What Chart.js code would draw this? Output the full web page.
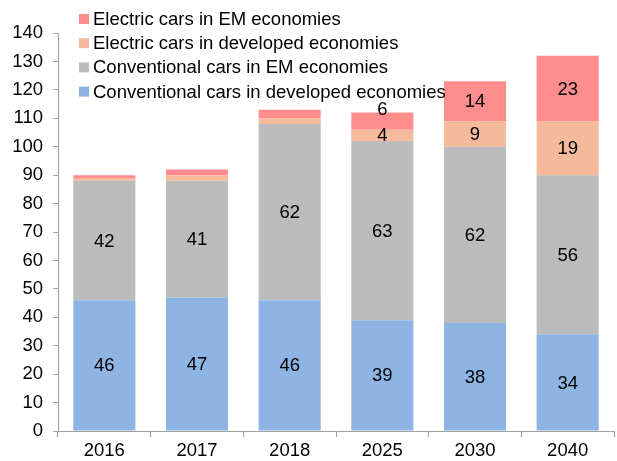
<!DOCTYPE html>
<html>
<head>
<meta charset="utf-8">
<script src="https://cdn.jsdelivr.net/npm/chart.js@4"></script>
<style>
  html, body { margin: 0; padding: 0; background: #fff; }
  #wrap { width: 617px; height: 461px; position: relative; }
</style>
</head>
<body>
<div id="wrap"><canvas id="carsChart"></canvas></div>
<script>
// Car stock by type and region (bars stack bottom to top)
const years = ["2016", "2017", "2018", "2025", "2030", "2040"];
const convDeveloped = [46, 47, 46, 39, 38, 34];
const convEM = [42, 41, 62, 63, 62, 56];
const electricDeveloped = [1, 2, 2, 4, 9, 19];
const electricEM = [1, 2, 3, 6, 14, 23];
const yTicks = [0, 10, 20, 30, 40, 50, 60, 70, 80, 90, 100, 110, 120, 130, 140];

const FONT = "Liberation Sans, Arial, sans-serif";
const SIZE = 18.5;

const series = [
    { label: "Conventional cars in developed economies", data: convDeveloped, color: "#8db4e3" },
    { label: "Conventional cars in EM economies", data: convEM, color: "#bcbcbc" },
    { label: "Electric cars in developed economies", data: electricDeveloped, color: "#f5b99c" },
    { label: "Electric cars in EM economies", data: electricEM, color: "#ff8d8d" }
];

// legend drawn in the top-left corner, over the plot
const legendPlugin = {
    id: "cornerLegend",
    afterDraw(chart) {
        const ctx = chart.ctx;
        ctx.save();
        ctx.font = SIZE + "px " + FONT;
        ctx.textBaseline = "middle";
        ctx.textAlign = "left";
        const rows = series.slice().reverse();
        rows.forEach((s, i) => {
            const y = 19 + i * 24.2;
            ctx.fillStyle = s.color;
            ctx.fillRect(79, y - 5, 10, 10);
            ctx.fillStyle = "#000";
            ctx.fillText(s.label, 93, y + 1);
        });
        ctx.restore();
    }
};

// value labels inside the segments
const valuePlugin = {
    id: "valueLabels",
    afterDatasetsDraw(chart) {
        const ctx = chart.ctx;
        ctx.save();
        ctx.font = SIZE + "px " + FONT;
        ctx.fillStyle = "#000";
        ctx.textAlign = "center";
        ctx.textBaseline = "middle";
        const last = chart.data.datasets.length - 1;
        chart.data.datasets.forEach((ds, di) => {
            const meta = chart.getDatasetMeta(di);
            meta.data.forEach((bar, i) => {
                const v = ds.data[i];
                if (v < 4) return;
                let y = (bar.y + bar.base) / 2;
                if (di === last && v < 10) y = bar.y - 4;
                ctx.fillText(String(v), bar.x, y + 1);
            });
        });
        ctx.restore();
    }
};

const ctx = document.getElementById("carsChart").getContext("2d");
new Chart(ctx, {
    type: "bar",
    data: {
        labels: years,
        datasets: series.map(s => ({
            label: s.label,
            data: s.data,
            backgroundColor: s.color,
            borderWidth: 0,
            categoryPercentage: 1,
            barPercentage: 0.67
        }))
    },
    options: {
        responsive: true,
        maintainAspectRatio: false,
        animation: false,
        layout: { padding: { top: 33, right: 3, left: 0, bottom: 0 } },
        plugins: {
            legend: { display: false },
            tooltip: { enabled: false }
        },
        scales: {
            x: {
                stacked: true,
                grid: {
                    drawOnChartArea: false,
                    drawTicks: true,
                    tickLength: 6,
                    color: "#a0a0a0",
                    offset: true
                },
                border: { color: "#a0a0a0", width: 1 },
                ticks: { color: "#000", font: { family: FONT, size: SIZE }, padding: 3 },
                afterFit: scale => { scale.height = 30; }
            },
            y: {
                stacked: true,
                min: 0,
                max: 140,
                afterBuildTicks: scale => { scale.ticks = yTicks.map(v => ({ value: v })); },
                grid: {
                    drawOnChartArea: false,
                    drawTicks: true,
                    tickLength: 5,
                    color: "#a0a0a0"
                },
                border: { color: "#a0a0a0", width: 1 },
                ticks: { color: "#000", font: { family: FONT, size: SIZE }, padding: 10 },
                afterFit: scale => { scale.width = 58; }
            }
        }
    },
    plugins: [valuePlugin, legendPlugin]
});
</script>
</body>
</html>
